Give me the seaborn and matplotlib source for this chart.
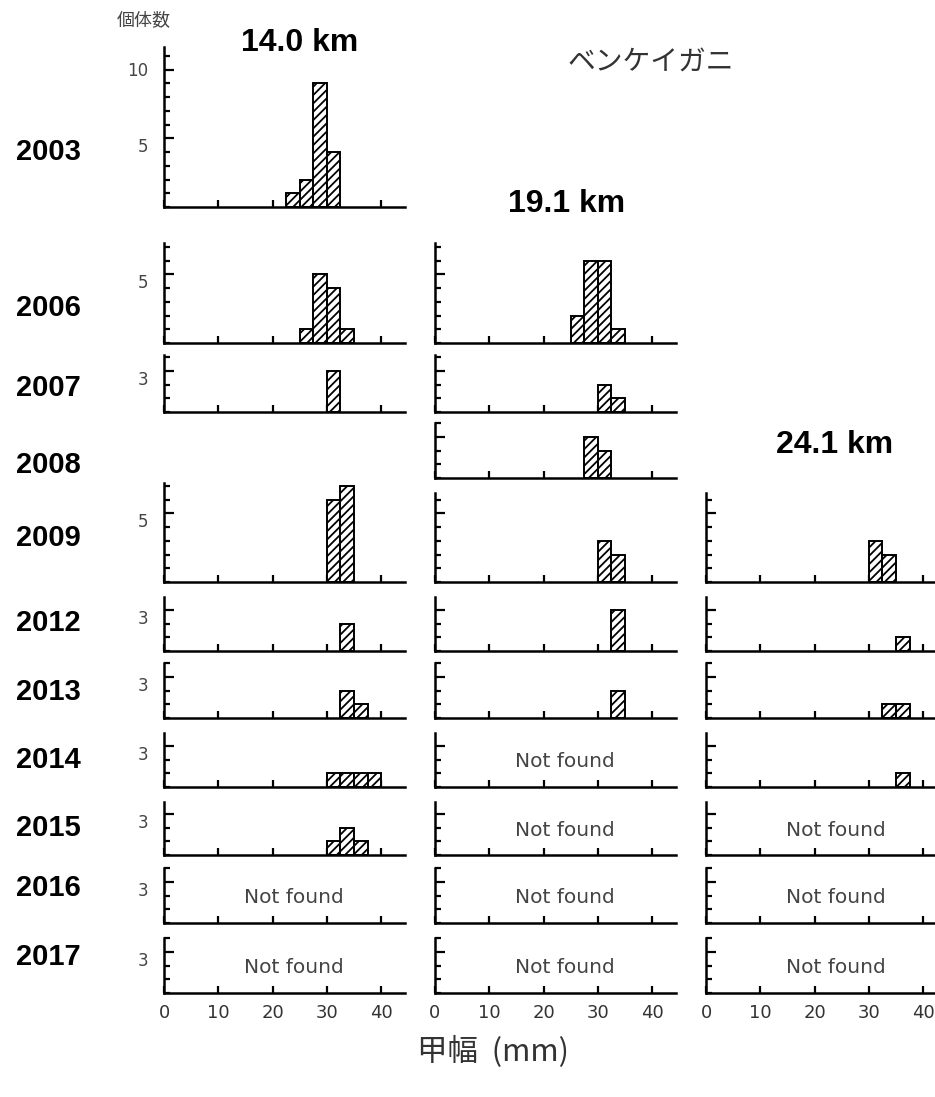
import numpy as np
import pandas as pd
import matplotlib
matplotlib.use("Agg")
import matplotlib.pyplot as plt
from matplotlib.ticker import FixedLocator, MultipleLocator
import seaborn as sns

# carapace width histograms of ベンケイガニ
# key = year, value = left edge (mm) of each 2.5 mm bin / count in that bin
# a missing year means no survey panel, an empty list means "Not found"
years = [2003, 2006, 2007, 2008, 2009, 2012, 2013, 2014, 2015, 2016, 2017]
sites = ["14.0 km", "19.1 km", "24.1 km"]
bin_width = 2.5

bins_14km = {2003: [22.5, 25.0, 27.5, 30.0], 2006: [25.0, 27.5, 30.0, 32.5], 2007: [30.0],
             2009: [30.0, 32.5], 2012: [32.5], 2013: [32.5, 35.0],
             2014: [30.0, 32.5, 35.0, 37.5], 2015: [30.0, 32.5, 35.0], 2016: [], 2017: []}
counts_14km = {2003: [1, 2, 9, 4], 2006: [1, 5, 4, 1], 2007: [3], 2009: [6, 7], 2012: [2],
               2013: [2, 1], 2014: [1, 1, 1, 1], 2015: [1, 2, 1], 2016: [], 2017: []}

bins_19km = {2006: [25.0, 27.5, 30.0, 32.5], 2007: [30.0, 32.5], 2008: [27.5, 30.0],
             2009: [30.0, 32.5], 2012: [32.5], 2013: [32.5], 2014: [], 2015: [], 2016: [], 2017: []}
counts_19km = {2006: [2, 6, 6, 1], 2007: [2, 1], 2008: [3, 2], 2009: [3, 2], 2012: [3],
               2013: [2], 2014: [], 2015: [], 2016: [], 2017: []}

bins_24km = {2009: [30.0, 32.5], 2012: [35.0], 2013: [32.5, 35.0], 2014: [35.0],
             2015: [], 2016: [], 2017: []}
counts_24km = {2009: [3, 2], 2012: [1], 2013: [1, 1], 2014: [1], 2015: [], 2016: [], 2017: []}

site_bins = [bins_14km, bins_19km, bins_24km]
site_counts = [counts_14km, counts_19km, counts_24km]

# ---- layout (pixels of the 935x1097 picture) ----
W, H = 935, 1097
col_left = [164, 435, 706]
px_per_mm = 5.43
px_per_count = 13.75
x_max = 44.3
row_base = {2003: 207, 2006: 343, 2007: 412, 2008: 478, 2009: 582, 2012: 651,
            2013: 718, 2014: 787, 2015: 855, 2016: 923, 2017: 993}
row_height = {2003: 160, 2006: 100, 2007: 57, 2008: 55, 2009: 99, 2012: 54,
              2013: 55, 2014: 54, 2015: 53, 2016: 55, 2017: 55}
row_ticks = {2003: [5, 10], 2006: [5], 2009: [5]}
year_y = {2003: 152, 2006: 308, 2007: 388, 2008: 465, 2009: 538, 2012: 623,
          2013: 692, 2014: 760, 2015: 828, 2016: 888, 2017: 957}

sns.set_style("white")
plt.rcParams["font.family"] = ["DejaVu Sans", "Noto Sans CJK JP"]
plt.rcParams["hatch.linewidth"] = 1.3

fig = plt.figure(figsize=(W / 100, H / 100), dpi=100)


def fx(x):
    return x / W


def fy(y):
    return 1 - y / H


def draw_panel(col, year):
    edges = site_bins[col][year]
    counts = site_counts[col][year]
    height = row_height[year]
    if year == 2009 and col > 0:
        height = 89
    ax = fig.add_axes([fx(col_left[col]), fy(row_base[year]),
                       x_max * px_per_mm / W, height / H])
    if edges:
        df = pd.DataFrame({"width": np.array(edges) + bin_width / 2, "n": counts})
        sns.histplot(data=df, x="width", weights="n", binwidth=bin_width,
                     binrange=(edges[0], edges[-1] + bin_width), ax=ax,
                     color="white", edgecolor="black", linewidth=1.4,
                     hatch="////", alpha=1)
    else:
        ax.text(24, 0.47, "Not found", transform=ax.get_xaxis_transform(),
                ha="center", va="center", fontsize=14.5, color="#444")
    ax.set_xlabel("")
    ax.set_ylabel("")
    ax.set_xlim(0, x_max)
    ax.set_ylim(0, height / px_per_count)

    ylocs = row_ticks.get(year, [3])
    ax.xaxis.set_major_locator(FixedLocator([0, 10, 20, 30, 40]))
    ax.yaxis.set_major_locator(FixedLocator(ylocs))
    ax.yaxis.set_minor_locator(MultipleLocator(1))
    ax.tick_params(axis="x", bottom=True, direction="in", length=5, width=1.6,
                   color="black", labelbottom=(year == 2017), labelsize=13,
                   labelcolor="#333", pad=8)
    ax.tick_params(axis="y", which="major", left=True, direction="in", length=7,
                   width=1.6, color="black", labelleft=(col == 0), labelsize=12,
                   labelcolor="#444", pad=11)
    ax.tick_params(axis="y", which="minor", left=True, direction="in", length=4.5,
                   width=1.6, color="black")
    # the printed count labels sit a little below their tick marks
    for loc, tick in zip(ylocs, ax.yaxis.get_major_ticks(len(ylocs))):
        if loc != 10:
            tick.label1.set_verticalalignment("top")
    for side in ["top", "right"]:
        ax.spines[side].set_visible(False)
    for side in ["left", "bottom"]:
        ax.spines[side].set_color("black")
        ax.spines[side].set_linewidth(1.8)
    ax.patch.set_alpha(0)


for col in range(3):
    for year in years:
        if year in site_bins[col]:
            draw_panel(col, year)

# year labels
for year in years:
    fig.text(fx(48), fy(year_y[year]), str(year), ha="center", va="center",
             fontsize=21, fontweight="bold", color="black", family="Liberation Sans")

# site titles
for name, (x, y) in zip(sites, [(300, 43), (567, 204), (835, 445)]):
    fig.text(fx(x), fy(y), name, ha="center", va="center", fontsize=23,
             fontweight="bold", color="black", family="Liberation Sans")

fig.text(fx(651), fy(62), "ベンケイガニ", ha="center", va="center", fontsize=20,
         color="#333", family=["Noto Sans CJK JP", "DejaVu Sans"])
fig.text(fx(144), fy(20), "個体数", ha="center", va="center", fontsize=13,
         color="#444", family=["Noto Sans CJK JP", "DejaVu Sans"])
fig.text(fx(493), fy(1052), "甲幅  (mm)", ha="center", va="center", fontsize=22,
         color="#333", family=["Noto Sans CJK JP", "DejaVu Sans"])

fig.savefig("out.png", dpi=100, facecolor="white")
